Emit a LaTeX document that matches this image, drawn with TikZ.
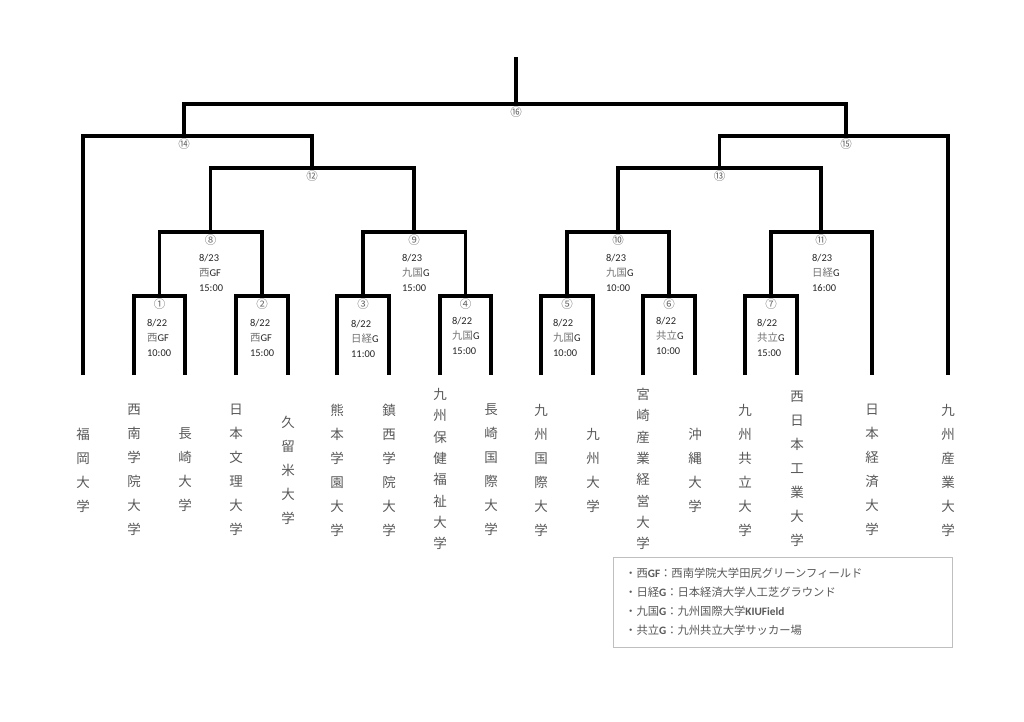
\documentclass[tikz,border=0pt]{standalone}
\usepackage{fontspec}
\setmainfont{Carlito}
\newfontfamily\jp{Noto Sans CJK JP}
\newcommand\latb[1]{{\normalfont\bfseries #1}}
\begin{document}
\begin{tikzpicture}[x=1pt,y=-1pt,
  br/.style={line width=3.3pt, draw=black},
  num/.style={font=\jp\fontsize{11.5}{12}\selectfont, text=black!60, inner sep=0pt},
  info/.style={font=\fontsize{10.4}{15}\selectfont, text=black!85, align=left, anchor=north west, inner sep=0pt},
  uni/.style={font=\jp\fontsize{13.5}{24}\selectfont, text=black!65, align=center, inner sep=0pt},
  unilong/.style={uni, font=\jp\fontsize{13.5}{21.3}\selectfont},
  leg/.style={font=\fontsize{11.3}{19}\selectfont, text=black!65, anchor=west, inner sep=0pt},
  legbox/.style={draw=black!25, line width=0.9pt, rectangle, inner sep=0pt, anchor=north west, minimum width=339pt, minimum height=90pt}]
\useasboundingbox (0,0) rectangle (1024,721);
\fill[white] (0,0) rectangle (1024,721);

% leaves (bottom ends of the bracket)
\foreach \i/\x in {1/83,2/134,3/185,4/236,5/288,6/337,7/389,8/440,9/491,10/541,11/593,12/643,13/695,14/745,15/797,16/872,17/948}
  \coordinate (t\i) at (\x,375);

% match junctions
\coordinate (m1) at (159.5,296);
\coordinate (m2) at (262,296);
\coordinate (m3) at (363,296);
\coordinate (m4) at (465.5,296);
\coordinate (m5) at (567,296);
\coordinate (m6) at (669,296);
\coordinate (m7) at (771,296);
\coordinate (m8) at (210.5,232);
\coordinate (m9) at (414,232);
\coordinate (m10) at (618,232);
\coordinate (m11) at (821,232);
\coordinate (m12) at (312,168);
\coordinate (m13) at (719.5,168);
\coordinate (m14) at (184,136);
\coordinate (m15) at (846,136);
\coordinate (m16) at (516,104);
\coordinate (top) at (516,57);

% brackets
\draw[br] (t2) |- (m1) -| (t3);
\draw[br] (t4) |- (m2) -| (t5);
\draw[br] (t6) |- (m3) -| (t7);
\draw[br] (t8) |- (m4) -| (t9);
\draw[br] (t10) |- (m5) -| (t11);
\draw[br] (t12) |- (m6) -| (t13);
\draw[br] (t14) |- (m7) -| (t15);
\draw[br] (m1) |- (m8) -| (m2);
\draw[br] (m3) |- (m9) -| (m4);
\draw[br] (m5) |- (m10) -| (m6);
\draw[br] (m7) |- (m11) -| (t16);
\draw[br] (m8) |- (m12) -| (m9);
\draw[br] (m10) |- (m13) -| (m11);
\draw[br] (t1) |- (m14) -| (m12);
\draw[br] (m13) |- (m15) -| (t17);
\draw[br] (m14) |- (m16) -| (m15);
\draw[br] (m16) -- (top);

% match numbers
\foreach \i/\c in {1/①,2/②,3/③,4/④,5/⑤,6/⑥,7/⑦,8/⑧,9/⑨,10/⑩,11/⑪,12/⑫,13/⑬,14/⑭,15/⑮,16/⑯}
  \node[num] (n\i) at ([yshift=-8.5pt]m\i) {\c};

% match info
\node[info] (i1) at (147,319.5) {8/22\\{\jp\color{black!55}西}GF\\10:00};
\node[info] (i2) at (250,319.2) {8/22\\{\jp\color{black!55}西}GF\\15:00};
\node[info] (i3) at (351,319.8) {8/22\\{\jp\color{black!55}日経}G\\11:00};
\node[info] (i4) at (452,317.2) {8/22\\{\jp\color{black!55}九国}G\\15:00};
\node[info] (i5) at (553,318.8) {8/22\\{\jp\color{black!55}九国}G\\10:00};
\node[info] (i6) at (656,317.2) {8/22\\{\jp\color{black!55}共立}G\\10:00};
\node[info] (i7) at (757,318.8) {8/22\\{\jp\color{black!55}共立}G\\15:00};
\node[info] (i8) at (199,254.5) {8/23\\{\jp\color{black!55}西}GF\\15:00};
\node[info] (i9) at (402,254.5) {8/23\\{\jp\color{black!55}九国}G\\15:00};
\node[info] (i10) at (606,254.5) {8/23\\{\jp\color{black!55}九国}G\\10:00};
\node[info] (i11) at (812,254.5) {8/23\\{\jp\color{black!55}日経}G\\16:00};

% universities
\node[uni] (u1) at (83,470) {福\\岡\\大\\学};
\node[uni] (u2) at (134,470) {西\\南\\学\\院\\大\\学};
\node[uni] (u3) at (185,470) {長\\崎\\大\\学};
\node[uni] (u4) at (236,470) {日\\本\\文\\理\\大\\学};
\node[uni] (u5) at (288,470) {久\\留\\米\\大\\学};
\node[uni] (u6) at (337,470) {熊\\本\\学\\園\\大\\学};
\node[uni] (u7) at (389,470) {鎮\\西\\学\\院\\大\\学};
\node[unilong] (u8) at (440,469) {九\\州\\保\\健\\福\\祉\\大\\学};
\node[uni] (u9) at (491,470) {長\\崎\\国\\際\\大\\学};
\node[uni] (u10) at (541,470) {九\\州\\国\\際\\大\\学};
\node[uni] (u11) at (593,470) {九\\州\\大\\学};
\node[unilong] (u12) at (643,469) {宮\\崎\\産\\業\\経\\営\\大\\学};
\node[uni] (u13) at (695,470) {沖\\縄\\大\\学};
\node[uni] (u14) at (745,470) {九\\州\\共\\立\\大\\学};
\node[uni] (u15) at (797,469) {西\\日\\本\\工\\業\\大\\学};
\node[uni] (u16) at (872,470) {日\\本\\経\\済\\大\\学};
\node[uni] (u17) at (948,470) {九\\州\\産\\業\\大\\学};

% legend
\node[legbox] (lgbox) at (613,557) {};
\node[leg] (lg1) at (625,573) {{\jp ・西}\latb{GF}{\jp ：西南学院大学田尻グリーンフィールド}};
\node[leg] (lg2) at (625,592) {{\jp ・日経}\latb{G}{\jp ：日本経済大学人工芝グラウンド}};
\node[leg] (lg3) at (625,611) {{\jp ・九国}\latb{G}{\jp ：九州国際大学}\latb{KIUField}};
\node[leg] (lg4) at (625,630) {{\jp ・共立}\latb{G}{\jp ：九州共立大学サッカー場}};
\end{tikzpicture}
\end{document}
